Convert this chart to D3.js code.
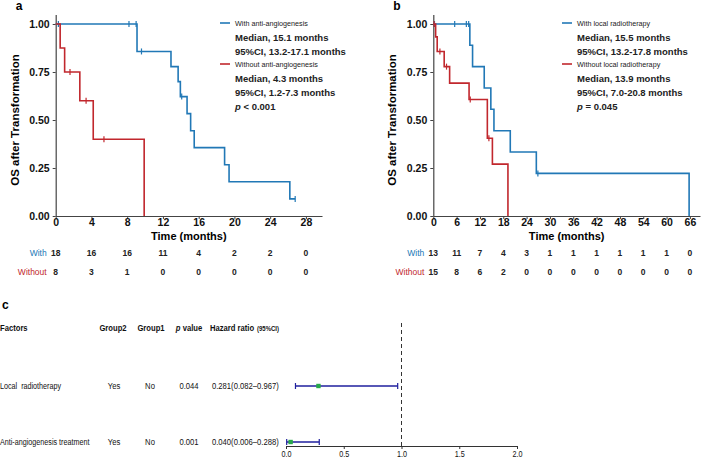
<!DOCTYPE html>
<html>
<head>
<meta charset="utf-8">
<script src="https://cdn.jsdelivr.net/npm/d3@7"></script>
<style>
  body { margin: 0; background: #fff; }
  text { font-family: "Liberation Sans", Arial, sans-serif; }
</style>
</head>
<body>
<div id="chart"></div>
<script>
// ---- data ----
// panel a : anti-angiogenesis
const timesA = [0, 4, 8, 12, 16, 20, 24, 28];
const riskAWith = [18, 16, 16, 11, 4, 2, 2, 0];
const riskAWithout = [8, 3, 1, 0, 0, 0, 0, 0];
const aWithDrops = [[9.1, 0.857], [12.9, 0.778], [13.7, 0.700], [13.95, 0.622], [14.7, 0.533], [15.1, 0.444], [15.5, 0.356], [18.9, 0.267], [19.4, 0.178], [26.2, 0.089]];
const aWithEnd = 26.8;
const aWithCensor = [0.3, 8.2, 9.0, 9.6, 14.1, 26.8];
const aWithoutDrops = [[0.5, 0.875], [1.0, 0.75], [2.7, 0.60], [4.2, 0.40], [9.9, 0]];
const aWithoutEnd = 9.9;
const aWithoutCensor = [1.6, 3.4, 5.4];
const legendA = ["With anti-angiogenesis", "Median, 15.1 months", "95%CI, 13.2-17.1 months",
                 "Without anti-angiogenesis", "Median, 4.3 months", "95%CI, 1.2-7.3 months"];
const pA = ["< 0.001"];

// panel b : local radiotherapy
const timesB = [0, 6, 12, 18, 24, 30, 36, 42, 48, 54, 60, 66];
const riskBWith = [13, 11, 7, 4, 3, 1, 1, 1, 1, 1, 1, 0];
const riskBWithout = [15, 8, 6, 2, 0, 0, 0, 0, 0, 0, 0, 0];
const bWithDrops = [[9.4, 0.889], [10.1, 0.778], [13.1, 0.667], [14.8, 0.556], [15.6, 0.444], [19.8, 0.333], [26.5, 0.222], [65.8, 0]];
const bWithEnd = 65.8;
const bWithCensor = [0.3, 5.5, 8.5, 9.1, 26.9];
const bWithoutDrops = [[0.6, 0.933], [1.0, 0.857], [2.8, 0.778], [4.2, 0.692], [9.2, 0.607], [13.9, 0.405], [15.2, 0.270], [19.2, 0]];
const bWithoutEnd = 19.2;
const bWithoutCensor = [0.2, 1.7, 3.4, 9.5, 14.3];
const legendB = ["With local radiotherapy", "Median, 15.5 months", "95%CI, 13.2-17.8 months",
                 "Without local radiotherapy", "Median, 13.9 months", "95%CI, 7.0-20.8 months"];
const pB = ["= 0.045"];

const yTicks = [0, 0.25, 0.5, 0.75, 1];

// panel c : forest plot
const factors = ["Local  radiotherapy", "Anti-angiogenesis treatment"];
const group2 = ["Yes", "Yes"];
const group1 = ["No", "No"];
const pvals = ["0.044", "0.001"];
const hr = [0.281, 0.040];
const hrLow = [0.082, 0.006];
const hrHigh = [0.967, 0.288];
const hrTicks = [0, 0.5, 1, 1.5, 2];

const blue = "#2178b6", red = "#c1272d";

const svg = d3.select("#chart").append("svg")
  .attr("width", 709).attr("height", 463);

// survival value at time t for a drop list
function survAt(drops, t) {
  let s = 1;
  drops.forEach(d => { if (d[0] <= t) s = d[1]; });
  return s;
}

// squeeze text horizontally (the original uses a narrow face)
function narrow(sel, k) {
  sel.each(function () {
    const t = d3.select(this);
    const x = +t.attr("x") || 0, y = +t.attr("y") || 0;
    t.attr("x", 0).attr("y", 0).attr("transform", `translate(${x},${y}) scale(${k},1)`);
  });
}

function kmPanel(opt) {
  const x = d3.scaleLinear().domain(opt.xDomain).range([opt.left, opt.right]);
  const y = d3.scaleLinear().domain([0, 1.05]).range([216, 14.4]);
  const g = svg.append("g");

  // axes
  const xa = g.append("g").attr("transform", "translate(0,216)")
    .call(d3.axisBottom(x).tickValues(opt.ticks).tickSize(3).tickSizeOuter(0).tickFormat(d3.format("d")));
  const ya = g.append("g").attr("transform", `translate(${opt.left},0)`)
    .call(d3.axisLeft(y).tickValues(yTicks).tickSize(3).tickSizeOuter(0).tickFormat(d3.format(".2f")));
  [xa, ya].forEach(a => {
    a.select(".domain").attr("stroke", "#444").attr("stroke-width", 1.2);
    a.selectAll(".tick line").attr("stroke", "#444");
    a.selectAll("text").attr("fill", "#111").style("font-size", "10.5px").style("font-weight", "bold");
  });
  xa.selectAll("text").attr("dy", "0.6em").attr("y", 4);

  g.append("text").attr("x", (opt.left + opt.right) / 2).attr("y", 240)
    .attr("text-anchor", "middle").style("font-size", "11px").style("font-weight", "bold")
    .text("Time (months)");
  g.append("text").attr("transform", `translate(${opt.left - 37},${y(0.5)}) rotate(-90)`)
    .attr("text-anchor", "middle").style("font-size", "11.5px").style("font-weight", "bold")
    .text("OS after Transformation");
  g.append("text").attr("x", opt.left - 40).attr("y", 10)
    .style("font-size", "12px").style("font-weight", "bold").text(opt.label);

  // curves
  const line = d3.line().curve(d3.curveStepAfter).x(d => x(d[0])).y(d => y(d[1]));
  opt.curves.forEach(c => {
    const pts = [[0, 1]].concat(c.drops);
    const last = pts[pts.length - 1];
    if (c.end > last[0]) pts.push([c.end, last[1]]);
    g.append("path").datum(pts).attr("d", line)
      .attr("fill", "none").attr("stroke", c.color).attr("stroke-width", 1.6);
    g.selectAll(null).data(c.censor).join("line")
      .attr("x1", d => x(d)).attr("x2", d => x(d))
      .attr("y1", d => y(survAt(c.drops, d)) - 3).attr("y2", d => y(survAt(c.drops, d)) + 3)
      .attr("stroke", c.color).attr("stroke-width", 1.2);
  });

  // legend
  const lx = opt.legendX;
  const rows = [[23, 0, blue], [37, 1], [51, 2], [64, 3, red], [78, 4], [92, 5]];
  rows.forEach(r => {
    if (r[2]) {
      g.append("line").attr("x1", lx).attr("x2", lx + 10).attr("y1", r[0]).attr("y2", r[0])
        .attr("stroke", r[2]).attr("stroke-width", 1.6);
      g.append("text").attr("x", lx + 15).attr("y", r[0] + 3)
        .style("font-size", "8px").attr("fill", "#222").text(opt.legend[r[1]])
        .call(narrow, 0.9);
    } else {
      g.append("text").attr("x", lx + 15).attr("y", r[0] + 4)
        .style("font-size", "9.5px").style("font-weight", "bold").attr("fill", "#222").text(opt.legend[r[1]]);
    }
  });
  const pt = g.append("text").attr("x", lx + 15).attr("y", 110)
    .style("font-size", "9.5px").style("font-weight", "bold").attr("fill", "#222");
  pt.append("tspan").style("font-style", "italic").text("p");
  pt.append("tspan").text(" " + opt.p[0]);

  // number at risk
  [[opt.riskWith, "With", blue, 256], [opt.riskWithout, "Without", red, 275]].forEach(r => {
    g.append("text").attr("x", opt.left - 9).attr("y", r[3]).attr("text-anchor", "end")
      .style("font-size", "8.5px").attr("fill", r[2]).text(r[1]);
    g.selectAll(null).data(r[0]).join("text")
      .attr("x", (d, i) => x(opt.ticks[i])).attr("y", r[3]).attr("text-anchor", "middle")
      .style("font-size", "8.5px").style("font-weight", "bold").attr("fill", "#222").text(d => d);
  });
}

kmPanel({
  label: "a", left: 55.7, right: 322, xDomain: [0, 29.8], ticks: timesA, legendX: 220,
  legend: legendA, p: pA, riskWith: riskAWith, riskWithout: riskAWithout,
  curves: [
    { drops: aWithDrops, end: aWithEnd, censor: aWithCensor, color: blue },
    { drops: aWithoutDrops, end: aWithoutEnd, censor: aWithoutCensor, color: red }
  ]
});
kmPanel({
  label: "b", left: 433.3, right: 700, xDomain: [0, 68.6], ticks: timesB, legendX: 562,
  legend: legendB, p: pB, riskWith: riskBWith, riskWithout: riskBWithout,
  curves: [
    { drops: bWithDrops, end: bWithEnd, censor: bWithCensor, color: blue },
    { drops: bWithoutDrops, end: bWithoutEnd, censor: bWithoutCensor, color: red }
  ]
});

// ---- panel c : forest plot ----
const fc = svg.append("g");
fc.append("text").attr("x", 2).attr("y", 309).style("font-size", "12px").style("font-weight", "bold").text("c");
const hx = d3.scaleLinear().domain([0, 2]).range([286, 517]);
const rowY = [386, 442];

const head = fc.append("g").style("font-size", "9px").style("font-weight", "bold").attr("fill", "#111");
head.append("text").attr("x", 0).attr("y", 331).text("Factors").call(narrow, 0.85);
head.append("text").attr("x", 113).attr("y", 331).attr("text-anchor", "middle").text("Group2").call(narrow, 0.85);
head.append("text").attr("x", 151).attr("y", 331).attr("text-anchor", "middle").text("Group1").call(narrow, 0.85);
const ph = head.append("text").attr("x", 189).attr("y", 331).attr("text-anchor", "middle");
ph.append("tspan").style("font-style", "italic").text("p");
ph.append("tspan").text(" value");
ph.call(narrow, 0.85);
head.append("text").attr("x", 210).attr("y", 331).text("Hazard ratio").call(narrow, 0.85);
head.append("text").attr("x", 257).attr("y", 331).style("font-size", "7.5px").text("(95%CI)").call(narrow, 0.8);

rowY.forEach((yy, i) => {
  const t = fc.append("g").style("font-size", "9px").attr("fill", "#111");
  t.append("text").attr("x", 0).attr("y", yy + 3).style("white-space", "pre").text(factors[i]).call(narrow, 0.8);
  t.append("text").attr("x", 114).attr("y", yy + 3).attr("text-anchor", "middle").text(group2[i]).call(narrow, 0.85);
  t.append("text").attr("x", 150).attr("y", yy + 3).attr("text-anchor", "middle").text(group1[i]).call(narrow, 0.85);
  t.append("text").attr("x", 189).attr("y", yy + 3).attr("text-anchor", "middle").text(pvals[i]).call(narrow, 0.85);
  t.append("text").attr("x", 212).attr("y", yy + 3)
    .text(`${hr[i].toFixed(3)}(${hrLow[i].toFixed(3)}\u2013${hrHigh[i].toFixed(3)})`).call(narrow, 0.85);
});

fc.append("line").attr("x1", hx(1)).attr("x2", hx(1)).attr("y1", 323).attr("y2", 446)
  .attr("stroke", "#333").attr("stroke-width", 1).attr("stroke-dasharray", "4,3");

const ci = fc.append("g");
ci.selectAll(".ci").data(rowY).join("line")
  .attr("x1", (d, i) => hx(hrLow[i])).attr("x2", (d, i) => hx(hrHigh[i]))
  .attr("y1", d => d).attr("y2", d => d).attr("stroke", "#1f1f9e").attr("stroke-width", 1.4);
[hrLow, hrHigh].forEach(arr => {
  ci.selectAll(null).data(rowY).join("line")
    .attr("x1", (d, i) => hx(arr[i])).attr("x2", (d, i) => hx(arr[i]))
    .attr("y1", d => d - 3).attr("y2", d => d + 3).attr("stroke", "#1f1f9e").attr("stroke-width", 1.2);
});
ci.selectAll("rect").data(rowY).join("rect")
  .attr("x", (d, i) => hx(hr[i]) - 2.2).attr("y", d => d - 2.2).attr("width", 4.4).attr("height", 4.4)
  .attr("fill", "#27a84a");

const fax = fc.append("g").attr("transform", "translate(0,446)")
  .call(d3.axisBottom(hx).tickValues(hrTicks).tickSize(3).tickSizeOuter(0).tickFormat(d3.format(".1f")));
fax.select(".domain").attr("stroke", "#333");
fax.selectAll(".tick line").attr("stroke", "#333");
fax.selectAll(".tick text").style("font-size", "8.5px").attr("fill", "#111")
  .attr("y", 5).attr("dy", "0.71em").attr("transform", "scale(0.85,1)");
</script>
</body>
</html>
